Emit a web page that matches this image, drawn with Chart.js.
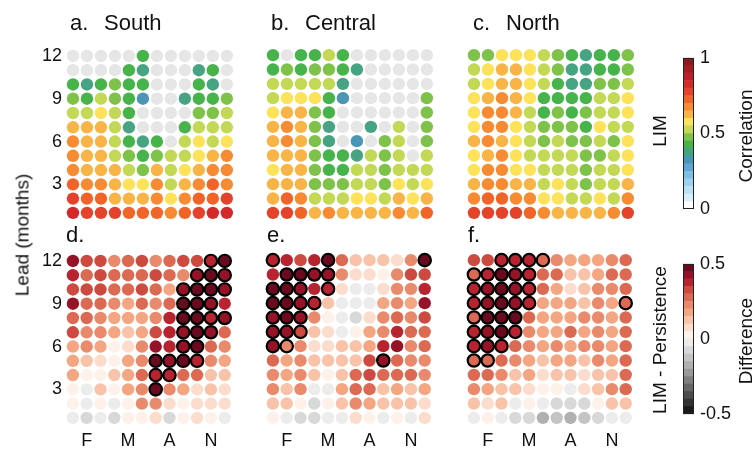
<!DOCTYPE html>
<html>
<head>
<meta charset="utf-8">
<script src="https://cdn.jsdelivr.net/npm/chart.js@4.4.1/dist/chart.umd.min.js"></script>
<style>
  html, body { margin: 0; padding: 0; background: #fff; }
  #fig { position: relative; width: 754px; height: 451px; overflow: hidden;
         font-family: "Liberation Sans", Arial, Helvetica, sans-serif; color: #111; }
  #fig canvas { position: absolute; }
  .t { position: absolute; white-space: nowrap; line-height: 1; font-size: 22px; }
  .r { position: absolute; white-space: nowrap; line-height: 1; font-size: 19px;
       transform: translate(-50%, -50%) rotate(-90deg); }
</style>
</head>
<body>
<div id="fig">
  <canvas id="pA" width="240" height="216" style="left:0px;top:34px"></canvas>
  <canvas id="pB" width="240" height="216" style="left:200px;top:34px"></canvas>
  <canvas id="pC" width="240" height="216" style="left:401px;top:34px"></canvas>
  <canvas id="pD" width="240" height="216" style="left:0px;top:239px"></canvas>
  <canvas id="pE" width="240" height="216" style="left:200px;top:239px"></canvas>
  <canvas id="pF" width="240" height="216" style="left:401px;top:239px"></canvas>
  <canvas id="cbTop" width="71" height="185" style="left:681px;top:41px"></canvas>
  <canvas id="cbBot" width="71" height="184" style="left:681px;top:247px"></canvas>

  <div class="t" style="left:70px;top:12px">a.</div><div class="t" style="left:104px;top:12px">South</div>
  <div class="t" style="left:271px;top:12px">b.</div><div class="t" style="left:305px;top:12px">Central</div>
  <div class="t" style="left:473px;top:12px">c.</div><div class="t" style="left:506px;top:12px">North</div>
  <div class="t" style="left:66px;top:224px">d.</div>
  <div class="t" style="left:267px;top:224px">e.</div>
  <div class="t" style="left:468px;top:224px">f.</div>

  <div class="r" style="left:22px;top:235px">Lead (months)</div>
  <div class="r" style="left:659px;top:131px">LIM</div>
  <div class="r" style="left:745px;top:136px">Correlation</div>
  <div class="r" style="left:659px;top:340px">LIM - Persistence</div>
  <div class="r" style="left:745px;top:341px">Difference</div>
</div>

<script>
// Calendar months along x, forecast lead (months) along y.
const months = ['J', 'F', 'M', 'A', 'M', 'J', 'J', 'A', 'S', 'O', 'N', 'D'];
const monthTicks = [2, 5, 8, 11];
const leadTicks = [3, 6, 9, 12];

// Colour scales (one colour per 0.05 step).
const corrPalette = ['#fbfdfe', '#dbeff9', '#bde1f4', '#9fd1ee', '#7fbfe6', '#5fa7d9', '#4a96b4', '#47a483',
  '#46b34b', '#7fc24a', '#c3d855', '#fde25a', '#f9b448', '#f68b33', '#f0642a', '#e3432a',
  '#d5282b', '#bd1f2b', '#a21c26', '#8a1a1f'];
const diffPalette = ['#1a1a1a', '#333333', '#4d4d4d', '#666666', '#7f7f7f', '#999999', '#b0b0b0', '#c4c4c4',
  '#d8d8d8', '#ececec', '#fdf1ea', '#fcdccc', '#f9c3a9', '#f4a683', '#e98a6c', '#dc6a53',
  '#cc4a3f', '#b7232e', '#961327', '#6a0a1e'];
const corrTicks = [0, 0.5, 1];
const corrTickLabels = ['0', '0.5', '1'];
const diffTicks = [-0.5, 0, 0.5];
const diffTickLabels = ['-0.5', '0', '0.5'];
const missingColor = '#e6e6e6';

// LIM correlation; rows run from lead 12 (top) down to lead 1, null = not significant.
const corrSouth = [
  [null, null, null, null, null, 0.43, null, null, null, null, null, null],
  [null, null, null, null, 0.43, 0.38, null, null, null, 0.38, 0.43, null],
  [0.43, 0.38, 0.43, 0.48, 0.43, 0.43, null, null, null, 0.43, 0.38, null],
  [0.48, 0.43, 0.53, 0.48, 0.43, 0.33, null, null, 0.38, 0.43, 0.43, 0.48],
  [0.53, 0.53, 0.58, 0.53, 0.43, null, null, null, null, 0.48, 0.48, 0.53],
  [0.63, 0.63, 0.63, 0.53, 0.38, null, null, null, 0.43, 0.53, 0.53, 0.53],
  [0.68, 0.63, 0.63, 0.53, 0.43, 0.38, 0.43, null, 0.53, 0.58, 0.53, 0.58],
  [0.68, 0.63, 0.63, 0.53, 0.48, 0.43, 0.48, 0.53, 0.53, 0.58, 0.63, 0.68],
  [0.68, 0.63, 0.63, 0.63, 0.53, 0.48, 0.63, 0.53, 0.58, 0.63, 0.68, 0.68],
  [0.73, 0.68, 0.68, 0.63, 0.58, 0.58, 0.68, 0.53, 0.63, 0.68, 0.73, 0.68],
  [0.78, 0.73, 0.73, 0.63, 0.63, 0.63, 0.68, 0.58, 0.68, 0.73, 0.73, 0.78],
  [0.83, 0.78, 0.78, 0.78, 0.73, 0.73, 0.73, 0.68, 0.73, 0.78, 0.83, 0.83]
];
const corrCentral = [
  [0.43, null, 0.43, 0.43, 0.53, 0.43, null, null, null, null, null, null],
  [0.43, 0.48, 0.43, 0.48, 0.48, 0.43, 0.38, null, null, null, null, null],
  [0.53, 0.53, 0.53, 0.53, 0.53, 0.38, null, null, null, null, null, null],
  [0.53, 0.58, 0.58, 0.58, 0.43, 0.33, null, null, null, null, null, 0.48],
  [0.58, 0.63, 0.63, 0.48, 0.43, null, null, null, null, null, null, 0.48],
  [0.63, 0.68, 0.63, 0.48, 0.38, null, null, 0.38, null, 0.53, null, 0.48],
  [0.63, 0.68, 0.63, 0.48, 0.38, null, 0.33, null, 0.48, 0.53, null, 0.48],
  [0.63, 0.63, 0.63, 0.48, 0.43, 0.43, 0.38, 0.53, 0.48, 0.53, null, 0.53],
  [0.58, 0.63, 0.63, 0.48, 0.43, 0.43, 0.53, 0.53, 0.48, 0.53, 0.53, 0.53],
  [0.63, 0.63, 0.63, 0.48, 0.48, 0.48, 0.53, 0.53, 0.48, 0.58, 0.53, 0.58],
  [0.63, 0.73, 0.68, 0.53, 0.53, 0.53, 0.58, 0.58, 0.53, 0.63, 0.58, 0.63],
  [0.78, 0.78, 0.73, 0.63, 0.68, 0.63, 0.63, 0.63, 0.63, 0.68, 0.63, 0.73]
];
const corrNorth = [
  [0.48, 0.48, 0.58, 0.58, 0.58, 0.53, 0.48, 0.43, 0.38, 0.43, 0.43, 0.48],
  [0.53, 0.58, 0.63, 0.63, 0.58, 0.53, 0.48, 0.38, 0.38, 0.43, 0.43, 0.48],
  [0.53, 0.58, 0.63, 0.63, 0.58, 0.53, 0.43, 0.38, 0.38, 0.48, 0.48, 0.53],
  [0.58, 0.63, 0.68, 0.63, 0.58, 0.43, 0.43, 0.43, 0.43, 0.53, 0.53, 0.58],
  [0.58, 0.68, 0.68, 0.63, 0.53, 0.43, 0.48, 0.43, 0.48, 0.53, 0.53, 0.58],
  [0.58, 0.68, 0.68, 0.58, 0.53, 0.48, 0.48, 0.48, 0.43, 0.58, 0.53, 0.53],
  [0.63, 0.68, 0.63, 0.58, 0.53, 0.48, 0.53, 0.48, 0.48, 0.53, 0.48, 0.58],
  [0.58, 0.63, 0.68, 0.58, 0.53, 0.53, 0.53, 0.53, 0.48, 0.48, 0.53, 0.58],
  [0.58, 0.68, 0.68, 0.58, 0.58, 0.53, 0.53, 0.53, 0.48, 0.53, 0.53, 0.58],
  [0.63, 0.68, 0.68, 0.63, 0.63, 0.53, 0.58, 0.53, 0.48, 0.53, 0.53, 0.63],
  [0.68, 0.73, 0.73, 0.68, 0.68, 0.58, 0.58, 0.53, 0.53, 0.58, 0.53, 0.68],
  [0.78, 0.78, 0.78, 0.78, 0.73, 0.68, 0.63, 0.63, 0.63, 0.63, 0.68, 0.78]
];

// LIM minus persistence correlation, same row order.
const diffSouth = [
  [0.42, 0.32, 0.32, 0.22, 0.27, 0.32, 0.22, 0.27, 0.32, 0.32, 0.37, 0.47],
  [0.37, 0.27, 0.32, 0.27, 0.27, 0.27, 0.32, 0.27, 0.22, 0.42, 0.47, 0.42],
  [0.32, 0.32, 0.32, 0.27, 0.27, 0.32, 0.27, 0.17, 0.42, 0.47, 0.47, 0.42],
  [0.42, 0.27, 0.27, 0.22, 0.17, 0.27, 0.22, 0.27, 0.47, 0.47, 0.42, 0.37],
  [0.27, 0.27, 0.22, 0.17, 0.17, 0.17, 0.22, 0.37, 0.47, 0.47, 0.37, 0.42],
  [0.32, 0.22, 0.22, 0.17, 0.12, 0.17, 0.32, 0.37, 0.42, 0.47, 0.42, 0.27],
  [0.17, 0.22, 0.17, 0.02, 0.07, 0.22, 0.42, 0.37, 0.42, 0.47, 0.27, 0.22],
  [0.17, 0.12, 0.07, 0.02, 0.17, 0.22, 0.47, 0.42, 0.47, 0.37, 0.22, 0.17],
  [0.17, 0.02, 0.02, 0.12, 0.17, 0.27, 0.37, 0.37, 0.27, 0.27, 0.12, 0.12],
  [0.02, -0.02, 0.12, 0.02, 0.17, 0.22, 0.47, 0.22, 0.17, 0.07, 0.12, 0.07],
  [0.02, -0.02, 0.02, -0.02, 0.02, 0.22, 0.22, 0.07, 0.02, 0.07, 0.07, 0.07],
  [-0.02, -0.07, -0.02, -0.07, 0.02, 0.02, 0.07, -0.07, 0.02, 0.07, 0.02, -0.02]
];
const sigSouth = [
  [0, 0, 0, 0, 0, 0, 0, 0, 0, 0, 1, 1],
  [0, 0, 0, 0, 0, 0, 0, 0, 0, 1, 1, 1],
  [0, 0, 0, 0, 0, 0, 0, 0, 1, 1, 1, 1],
  [0, 0, 0, 0, 0, 0, 0, 0, 1, 1, 1, 0],
  [0, 0, 0, 0, 0, 0, 0, 0, 1, 1, 1, 1],
  [0, 0, 0, 0, 0, 0, 0, 0, 1, 1, 1, 0],
  [0, 0, 0, 0, 0, 0, 0, 0, 1, 1, 0, 0],
  [0, 0, 0, 0, 0, 0, 1, 1, 1, 1, 0, 0],
  [0, 0, 0, 0, 0, 0, 1, 1, 0, 0, 0, 0],
  [0, 0, 0, 0, 0, 0, 1, 0, 0, 0, 0, 0],
  [0, 0, 0, 0, 0, 0, 0, 0, 0, 0, 0, 0],
  [0, 0, 0, 0, 0, 0, 0, 0, 0, 0, 0, 0]
];
const diffCentral = [
  [0.37, 0.37, 0.32, 0.37, 0.47, 0.27, 0.12, 0.12, 0.12, 0.07, 0.22, 0.47],
  [0.37, 0.47, 0.47, 0.42, 0.42, 0.22, 0.07, 0.07, 0.02, 0.22, 0.32, 0.32],
  [0.47, 0.47, 0.42, 0.37, 0.37, 0.07, -0.02, -0.02, 0.07, 0.22, 0.22, 0.37],
  [0.47, 0.47, 0.42, 0.37, 0.12, -0.02, -0.02, -0.02, 0.17, 0.22, 0.17, 0.42],
  [0.42, 0.47, 0.42, 0.22, 0.02, -0.02, -0.07, 0.07, 0.22, 0.27, 0.22, 0.32],
  [0.42, 0.42, 0.32, 0.12, 0.07, -0.02, 0.02, 0.17, 0.22, 0.37, 0.27, 0.27],
  [0.42, 0.22, 0.22, 0.07, 0.07, 0.12, 0.12, 0.17, 0.37, 0.42, 0.22, 0.27],
  [0.27, 0.17, 0.22, 0.12, 0.12, 0.12, 0.12, 0.32, 0.42, 0.27, 0.22, 0.22],
  [0.22, 0.17, 0.22, 0.12, 0.02, 0.12, 0.27, 0.32, 0.27, 0.27, 0.27, 0.22],
  [0.22, 0.12, 0.22, -0.02, -0.02, 0.17, 0.27, 0.27, 0.12, 0.17, 0.12, 0.17],
  [0.12, 0.12, 0.02, -0.07, 0.02, 0.12, 0.22, 0.17, 0.12, 0.12, 0.12, 0.07],
  [0.02, -0.02, -0.07, -0.07, -0.02, -0.02, 0.07, 0.02, -0.02, 0.02, -0.02, 0.07]
];
const sigCentral = [
  [1, 0, 0, 0, 1, 0, 0, 0, 0, 0, 0, 1],
  [0, 1, 1, 1, 1, 0, 0, 0, 0, 0, 0, 0],
  [1, 1, 1, 0, 1, 0, 0, 0, 0, 0, 0, 0],
  [1, 1, 1, 1, 0, 0, 0, 0, 0, 0, 0, 0],
  [1, 1, 1, 0, 0, 0, 0, 0, 0, 0, 0, 0],
  [1, 1, 1, 0, 0, 0, 0, 0, 0, 0, 0, 0],
  [1, 1, 0, 0, 0, 0, 0, 0, 0, 0, 0, 0],
  [0, 0, 0, 0, 0, 0, 0, 0, 1, 0, 0, 0],
  [0, 0, 0, 0, 0, 0, 0, 0, 0, 0, 0, 0],
  [0, 0, 0, 0, 0, 0, 0, 0, 0, 0, 0, 0],
  [0, 0, 0, 0, 0, 0, 0, 0, 0, 0, 0, 0],
  [0, 0, 0, 0, 0, 0, 0, 0, 0, 0, 0, 0]
];
const diffNorth = [
  [0.32, 0.32, 0.37, 0.37, 0.37, 0.27, 0.22, 0.17, 0.17, 0.17, 0.22, 0.27],
  [0.27, 0.37, 0.47, 0.42, 0.37, 0.27, 0.27, 0.12, 0.12, 0.17, 0.27, 0.27],
  [0.37, 0.42, 0.47, 0.42, 0.37, 0.27, 0.17, 0.07, 0.12, 0.22, 0.22, 0.27],
  [0.37, 0.42, 0.47, 0.42, 0.37, 0.17, 0.17, 0.17, 0.12, 0.22, 0.17, 0.27],
  [0.27, 0.47, 0.47, 0.47, 0.27, 0.17, 0.17, 0.17, 0.22, 0.22, 0.17, 0.27],
  [0.37, 0.42, 0.47, 0.37, 0.22, 0.17, 0.17, 0.27, 0.17, 0.22, 0.17, 0.27],
  [0.37, 0.42, 0.37, 0.27, 0.22, 0.17, 0.22, 0.17, 0.22, 0.22, 0.17, 0.27],
  [0.27, 0.27, 0.27, 0.22, 0.17, 0.12, 0.17, 0.17, 0.12, 0.22, 0.17, 0.27],
  [0.27, 0.27, 0.22, 0.12, 0.17, 0.07, 0.12, 0.12, 0.07, 0.12, 0.12, 0.27],
  [0.22, 0.17, 0.12, 0.12, 0.07, 0.02, 0.02, -0.02, 0.07, 0.12, 0.22, 0.27],
  [0.12, 0.07, 0.12, -0.02, 0.02, -0.02, -0.07, -0.07, -0.07, 0.02, 0.12, 0.12],
  [-0.02, 0.02, -0.02, -0.07, -0.07, -0.17, -0.12, -0.17, -0.12, -0.07, -0.02, -0.02]
];
const sigNorth = [
  [0, 0, 1, 1, 1, 1, 0, 0, 0, 0, 0, 0],
  [1, 1, 1, 1, 1, 0, 0, 0, 0, 0, 0, 0],
  [1, 1, 1, 1, 1, 0, 0, 0, 0, 0, 0, 0],
  [1, 1, 1, 1, 1, 0, 0, 0, 0, 0, 0, 1],
  [1, 1, 1, 1, 0, 0, 0, 0, 0, 0, 0, 0],
  [1, 1, 1, 1, 0, 0, 0, 0, 0, 0, 0, 0],
  [1, 1, 1, 0, 0, 0, 0, 0, 0, 0, 0, 0],
  [1, 1, 0, 0, 0, 0, 0, 0, 0, 0, 0, 0],
  [0, 0, 0, 0, 0, 0, 0, 0, 0, 0, 0, 0],
  [0, 0, 0, 0, 0, 0, 0, 0, 0, 0, 0, 0],
  [0, 0, 0, 0, 0, 0, 0, 0, 0, 0, 0, 0],
  [0, 0, 0, 0, 0, 0, 0, 0, 0, 0, 0, 0]
];

const FONT = { family: '"Liberation Sans", Arial, Helvetica, sans-serif', size: 18 };
const TEXT = '#111';

function binColor(v, lo, hi, pal) {
  if (v === null || v === undefined) return missingColor;
  let i = Math.floor((v - lo) / (hi - lo) * pal.length);
  i = Math.max(0, Math.min(pal.length - 1, i));
  return pal[i];
}

function toPoints(rows, sig) {
  const pts = [];
  rows.forEach((row, r) => row.forEach((v, c) => {
    pts.push({ x: c + 1, y: 12 - r, v: v, s: sig ? sig[r][c] : 0 });
  }));
  return pts;
}

function dotPanel(id, rows, sig, pal, lo, hi, showX, showY) {
  new Chart(document.getElementById(id), {
    type: 'scatter',
    data: {
      datasets: [{
        data: toPoints(rows, sig),
        clip: false,
        pointRadius: 6.2,
        pointHoverRadius: 6.2,
        pointBackgroundColor: ctx => binColor(ctx.raw.v, lo, hi, pal),
        pointBorderColor: ctx => (ctx.raw.s ? '#000000' : 'rgba(0,0,0,0)'),
        pointBorderWidth: ctx => (ctx.raw.s ? 2.2 : 0)
      }]
    },
    options: {
      responsive: false,
      animation: false,
      events: [],
      layout: { padding: { left: showY ? 2 : 66, right: 6, top: 14, bottom: showX ? 4 : 30 } },
      plugins: { legend: { display: false }, tooltip: { enabled: false } },
      scales: {
        x: {
          type: 'linear', min: 0.5, max: 12.5, display: showX,
          grid: { display: false, drawTicks: false }, border: { display: false },
          afterBuildTicks: s => { s.ticks = monthTicks.map(v => ({ value: v })); },
          afterFit: s => { if (showX) s.height = 26; },
          ticks: { callback: v => months[v - 1], font: FONT, color: TEXT, padding: 5,
                   maxRotation: 0, autoSkip: false }
        },
        y: {
          type: 'linear', min: 0.5, max: 12.5, display: showY,
          grid: { display: false, drawTicks: false }, border: { display: false },
          afterBuildTicks: s => { s.ticks = leadTicks.map(v => ({ value: v })); },
          afterFit: s => { if (showY) s.width = 64; },
          ticks: { callback: v => String(v), font: FONT, color: TEXT, padding: 4, autoSkip: false }
        }
      }
    }
  });
}

dotPanel('pA', corrSouth, null, corrPalette, 0, 1, false, true);
dotPanel('pB', corrCentral, null, corrPalette, 0, 1, false, false);
dotPanel('pC', corrNorth, null, corrPalette, 0, 1, false, false);
dotPanel('pD', diffSouth, sigSouth, diffPalette, -0.5, 0.5, true, true);
dotPanel('pE', diffCentral, sigCentral, diffPalette, -0.5, 0.5, true, false);
dotPanel('pF', diffNorth, sigNorth, diffPalette, -0.5, 0.5, true, false);

// Thin frame around a colour bar.
const barFrame = {
  id: 'barFrame',
  afterDatasetsDraw(chart) {
    const a = chart.chartArea, c = chart.ctx;
    c.save();
    c.strokeStyle = '#222';
    c.lineWidth = 1;
    c.strokeRect(Math.round(a.left) + 0.5, Math.round(a.top) + 0.5,
                 Math.round(a.right - a.left) - 1, Math.round(a.bottom - a.top) - 1);
    c.restore();
  }
};

function colorBar(id, pal, lo, hi, ticks, tickLabels) {
  const step = (hi - lo) / pal.length;
  new Chart(document.getElementById(id), {
    type: 'bar',
    data: {
      labels: [''],
      datasets: pal.map((col, i) => ({
        data: [[lo + i * step, lo + (i + 1) * step]],
        backgroundColor: col,
        borderWidth: 0,
        barPercentage: 1,
        categoryPercentage: 1,
        grouped: false
      }))
    },
    options: {
      responsive: false,
      animation: false,
      events: [],
      layout: { padding: { left: 2, right: 0, top: 8, bottom: 8 } },
      plugins: { legend: { display: false }, tooltip: { enabled: false } },
      scales: {
        x: { display: false },
        y: {
          position: 'right', min: lo, max: hi,
          grid: { display: false, drawTicks: false }, border: { display: false },
          afterBuildTicks: s => { s.ticks = ticks.map(v => ({ value: v })); },
          afterFit: s => { s.width = 58; },
          ticks: { callback: v => tickLabels[ticks.indexOf(v)], font: FONT, color: TEXT, padding: 6 }
        }
      }
    },
    plugins: [barFrame]
  });
}

colorBar('cbTop', corrPalette, 0, 1, corrTicks, corrTickLabels);
colorBar('cbBot', diffPalette, -0.5, 0.5, diffTicks, diffTickLabels);
</script>
</body>
</html>
